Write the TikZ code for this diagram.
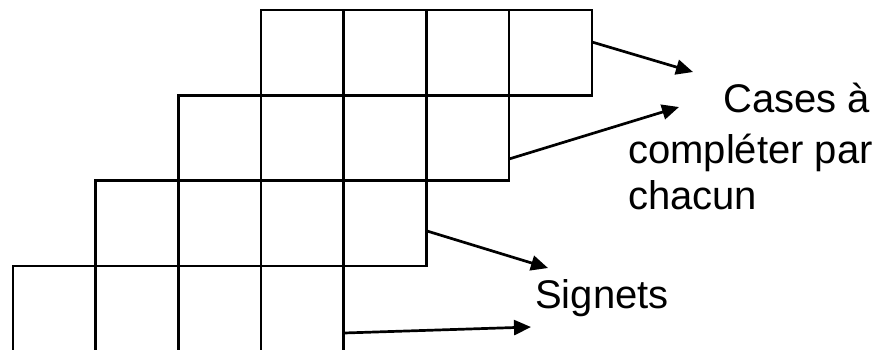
\documentclass[tikz,border=0pt]{standalone}
\usepackage{fontspec}
\setmainfont{Liberation Sans}
\usetikzlibrary{arrows.meta}
\tikzset{
  cell/.style={draw=black, line width=2.5pt},
  pointer/.style={draw=black, line width=2.7pt, -{Triangle[length=17pt,width=15pt]}},
  label/.style={inner sep=0pt, font=\fontsize{40}{48}\selectfont, anchor=base west}
}
\begin{document}
\begin{tikzpicture}[x=1pt,y=-1pt]
\useasboundingbox (0,0) rectangle (893,349);
\begin{scope}
\clip (0,0) rectangle (893,349);
\def\cw{82.71}
\def\ch{85.33}
\foreach \r in {0,1,2,3}{
  \foreach \c in {0,1,2,3}{
    \draw[cell] ({261-\cw*\r+\cw*\c},{10+\ch*\r}) rectangle ++(\cw,\ch);
  }
}
\end{scope}
\coordinate (s1) at (592,42);
\coordinate (s2) at (509,159);
\coordinate (s3) at (427,231);
\coordinate (s4) at (344,333);
\coordinate (e1) at (693,72);
\coordinate (e2) at (679,107);
\coordinate (e3) at (548,268);
\coordinate (e4) at (531,327);
\draw[pointer] (s1) -- (e1);
\draw[pointer] (s2) -- (e2);
\draw[pointer] (s3) -- (e3);
\draw[pointer] (s4) -- (e4);
\node[label] (cases) at (723,112) {Cases à};
\node[label] (completer) at (628,163) {compléter par};
\node[label] (chacun) at (628,209) {chacun};
\node[label] (signets) at (535,308) {Signets};
\end{tikzpicture}
\end{document}
